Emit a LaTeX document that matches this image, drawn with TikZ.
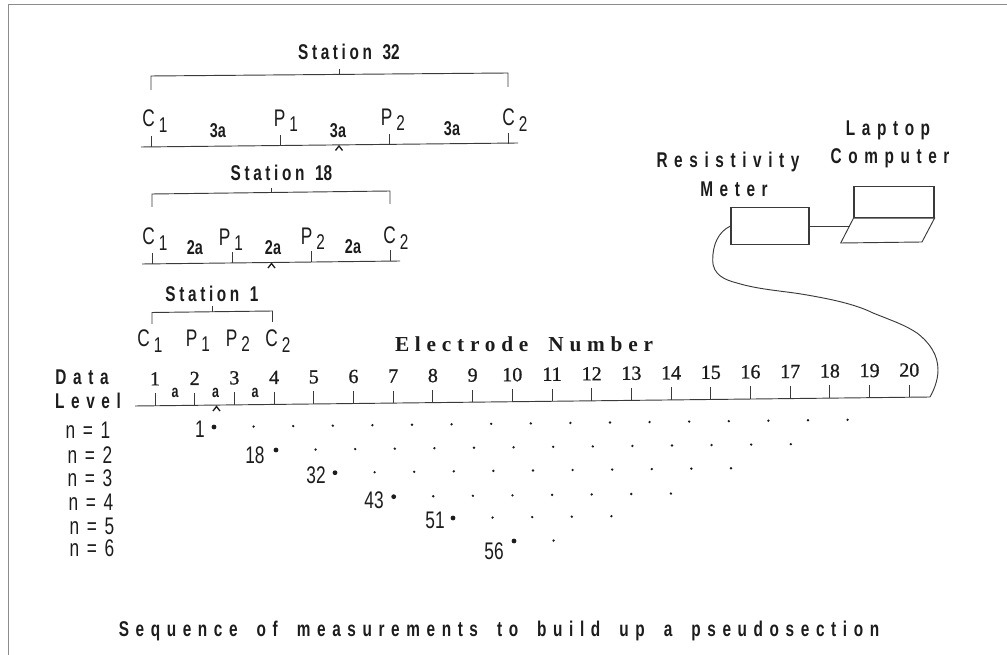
\documentclass[tikz,border=0pt]{standalone}
\usepackage{xcolor}
\usepackage{fontspec}
\setmainfont{Liberation Serif}
\newfontfamily\wideFont[FakeStretch=0.72,LetterSpace=31,WordSpace=1.75]{Liberation Sans}
\newfontfamily\midFont[FakeStretch=0.72,LetterSpace=17]{Liberation Sans}
\newfontfamily\narrowFont[FakeStretch=0.72,WordSpace=1.6]{Liberation Sans}
\newfontfamily\numFont[FakeBold=1]{Liberation Serif}
\newfontfamily\headFont[LetterSpace=27,WordSpace=1.8]{Liberation Serif}
\definecolor{cInk}{HTML}{1C1C1C}
\definecolor{cLine}{HTML}{3A3A3A}
\definecolor{cFrame}{HTML}{8C8C8C}
\usetikzlibrary{positioning}
\newcommand{\elec}[2]{#1\,\raisebox{-0.42ex}{\fontsize{16pt}{17pt}\selectfont #2}}
\tikzset{
  line-thin/.style={draw=cLine,line width=0.7pt},
  line-caret/.style={draw=cInk,line width=1pt},
  line-frame/.style={draw=cFrame,line width=1.1pt},
  box-plain/.style={draw=cLine,line width=0.8pt,inner sep=0pt},
  label-wide/.style={text=cInk,inner sep=0pt,font=\fontsize{16pt}{18pt}\selectfont\bfseries\wideFont},
  label-elec/.style={text=cInk,inner sep=0pt,font=\fontsize{18pt}{19pt}\selectfont\narrowFont},
  label-gap/.style={text=cInk,inner sep=0pt,font=\fontsize{15pt}{16pt}\selectfont\bfseries\narrowFont},
  label-num/.style={text=cInk,inner sep=0pt,font=\fontsize{15pt}{16pt}\selectfont\numFont},
  label-row/.style={text=cInk,inner sep=0pt,font=\fontsize{18pt}{19pt}\selectfont\narrowFont},
  dot-big/.style={circle,fill=cInk,inner sep=0pt,minimum size=3.6pt},
  dot-small/.style={circle,fill=cInk,inner sep=0pt,minimum size=2pt},
}
\begin{document}
\begin{tikzpicture}[x=0.75pt,y=-0.75pt]
  \useasboundingbox (0,0) rectangle (1007,655);
  \draw[line-frame] (8.5,655) -- (8.5,4.5) -- (1007,4.5);

  % station 32
  \draw[line-thin] (151,90) -- (151,76) -- (508,73) -- (508,87);
  \draw[line-thin] (339,74) -- (339,69);
  \node[label-wide] (st32) at (349,52) {{\midFont Station}\hspace{8pt}{\narrowFont 32}};
  \draw[line-thin] (141,147) -- (518,143);
  \foreach \x/\y in {151/147,280/146,389/145,508/144}
    \draw[line-thin] (\x,\y) -- (\x,\y-11);
  \draw[line-caret] (335.5,150.5) -- (339,146) -- (342.5,150.5);
  \node[label-elec] (c1a) at (155,121) {\elec{C}{1}};
  \node[label-gap] (g1a) at (218,131) {3a};
  \node[label-elec] (p1a) at (286,121) {\elec{P}{1}};
  \node[label-gap] (g2a) at (338,131) {3a};
  \node[label-elec] (p2a) at (393,120) {\elec{P}{2}};
  \node[label-gap] (g3a) at (452,129) {3a};
  \node[label-elec] (c2a) at (515,120) {\elec{C}{2}};

  % station 18
  \draw[line-thin] (152,207) -- (152,194) -- (390,191) -- (390,204);
  \draw[line-thin] (271.5,192.5) -- (271.5,188);
  \node[label-wide] (st18) at (281.5,173) {{\midFont Station}\hspace{8pt}{\narrowFont 18}};
  \draw[line-thin] (142,264) -- (400,261);
  \foreach \x/\y in {152/264,232.5/263,311.5/262,390.5/261}
    \draw[line-thin] (\x,\y) -- (\x,\y-11);
  \draw[line-caret] (268,268) -- (271.5,263.5) -- (275,268);
  \node[label-elec] (c1b) at (155,239) {\elec{C}{1}};
  \node[label-gap] (g1b) at (195,248) {2a};
  \node[label-elec] (p1b) at (231,240) {\elec{P}{1}};
  \node[label-gap] (g2b) at (273,248) {2a};
  \node[label-elec] (p2b) at (313,239) {\elec{P}{2}};
  \node[label-gap] (g3b) at (353,247) {2a};
  \node[label-elec] (c2b) at (396,238) {\elec{C}{2}};

  % station 1
  \draw[line-thin] (152,324) -- (152,312.5) -- (272.5,311) -- (272.5,322);
  \draw[line-thin] (212,312) -- (212,306);
  \node[label-wide] (st1) at (212,294) {{\midFont Station}\hspace{8pt}{\narrowFont 1}};
  \node[label-elec] (c1c) at (150,341) {\elec{C}{1}};
  \node[label-elec] (p1c) at (198,341) {\elec{P}{1}};
  \node[label-elec] (p2c) at (238,341) {\elec{P}{2}};
  \node[label-elec] (c2c) at (278,341) {\elec{C}{2}};

  % electrode line
  \coordinate (axis-end) at (930,397);
  \draw[line-thin] (135,406) -- (axis-end);
  \foreach \n in {1,...,20}{
    \pgfmathsetmacro{\ex}{155+39.7*(\n-1)}
    \pgfmathsetmacro{\ey}{405.8-0.46*(\n-1)}
    \draw[line-thin] (\ex,\ey) -- (\ex,\ey-12.5);
    \node[label-num] (num\n) at (\ex,\ey-27) {\n};
  }
  \foreach \x in {175,215.5,255}
    \node[label-gap,font=\fontsize{13pt}{14pt}\selectfont\bfseries\narrowFont] at (\x,393) {a};
  \draw[line-caret] (213,411) -- (216.5,406.5) -- (220,411);
  \node[font=\fontsize{16pt}{18pt}\selectfont\bfseries\headFont,text=cInk,inner sep=0pt] (title-elec) at (524,344) {Electrode Number};
  \node[label-wide] (data) at (82,377) {Data};
  \node[label-wide] (level) at (88,401) {Level};

  % data levels
  \node[label-row] (n1) at (88,430) {n = 1};
  \node[label-row] (n2) at (90,455) {n = 2};
  \node[label-row] (n3) at (90,478) {n = 3};
  \node[label-row] (n4) at (91,502) {n = 4};
  \node[label-row] (n5) at (92,526) {n = 5};
  \node[label-row] (n6) at (92,548) {n = 6};
  \foreach \lab/\x/\y/\cnt/\lx/\ly in {1/214/427/16/200/429,18/276/450/13/255/455,32/335/472.7/10/316/475,43/393.7/496.7/7/374/500,51/453/518/4/435/520,56/514/541/1/494/551}{
    \node[dot-big] (m\lab) at (\x,\y) {};
    \node[label-row] (t\lab) at (\lx,\ly) {\lab};
    \foreach \i in {1,...,\cnt}
      \node[dot-small] at ({\x+39.6*\i},{\y-0.45*\i}) {};
  }

  % instruments
  \node[box-plain,minimum width=58.5pt,minimum height=27.5pt] (meter) at (770,226) {};
  \node[box-plain,minimum width=60pt,minimum height=23.5pt] (screen) at (894,202) {};
  \draw[line-thin] (screen.south west) -- (screen.south east) -- (922,242) -- (840.7,243) -- cycle;
  \coordinate (kbd-edge) at (849.6,226);
  \draw[line-thin] (meter.east) -- (kbd-edge);
  \draw[line-thin] (meter.west) .. controls (718,232) and (712.7,245) .. (712.7,260)
    .. controls (712.7,275) and (725,280) .. (737,283)
    .. controls (760,290) and (785,291) .. (807,295)
    .. controls (830,299) and (855,304) .. (873,313)
    .. controls (893,321) and (905,325) .. (917,333)
    .. controls (930,343) and (938,355) .. (938,370)
    .. controls (938,380) and (934,390) .. (axis-end);
  \node[label-wide] (res) at (728,162) {Resistivity};
  \node[label-wide] (met) at (734,189) {Meter};
  \node[label-wide] (lap) at (888,130) {Laptop};
  \node[label-wide] (com) at (890,158) {Computer};

  \node[label-wide] (caption) at (499,631) {Sequence of measurements to build up a pseudosection};
\end{tikzpicture}
\end{document}
